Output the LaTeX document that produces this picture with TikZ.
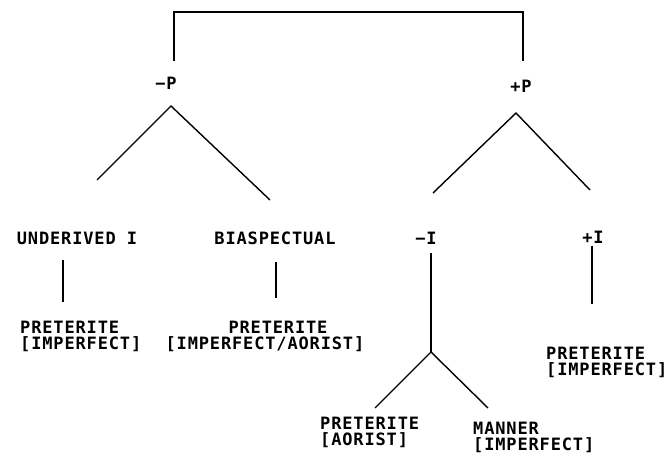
\documentclass[tikz,border=0pt]{standalone}
\usepackage{fontspec}
\setmonofont{DejaVu Sans Mono}[LetterSpace=5]
\begin{document}
\begin{tikzpicture}[x=1pt,y=-1pt,
  lbl/.style={font=\ttfamily\bfseries\fontsize{17}{16}\selectfont, inner sep=0pt, align=left},
  ln/.style={line width=1.8pt},
  dg/.style={line width=1.4pt}]
\useasboundingbox[fill=white] (0,0) rectangle (672,462);
% labels
\node[lbl] (mP) at (166,83) {−P};
\node[lbl] (pP) at (521,86) {+P};
\node[lbl] (und) at (77,238) {UNDERIVED I};
\node[lbl] (bia) at (275,238) {BIASPECTUAL};
\node[lbl] (mI) at (426,238) {−I};
\node[lbl] (pI) at (593,237) {+I};
\node[lbl, anchor=north west] (p1) at (20,321) {PRETERITE\\{[}IMPERFECT{]}};
\node[lbl, align=center] (p2) at (265,336) {\hspace*{26pt}PRETERITE\\{[}IMPERFECT/AORIST{]}};
\node[lbl, anchor=north west] (p3) at (546,347) {PRETERITE\\{[}IMPERFECT{]}};
\node[lbl, anchor=north west] (p4) at (320,417) {PRETERITE\\{[}AORIST{]}};
\node[lbl, anchor=north west] (p5) at (473,422) {MANNER\\{[}IMPERFECT{]}};
% points
\coordinate (bl) at (174,61);
\coordinate (br) at (523,61);
\coordinate (aM) at (171,106);
\coordinate (aMl) at (97,180);
\coordinate (aMr) at (270,200);
\coordinate (aP) at (516,113);
\coordinate (aPl) at (433,193);
\coordinate (aPr) at (590,190);
\coordinate (u1) at (63,260); \coordinate (u2) at (63,302);
\coordinate (b1) at (276,262); \coordinate (b2) at (276,298);
\coordinate (i1) at (431,253); \coordinate (fork) at (431,352);
\coordinate (fl) at (375,408); \coordinate (fr) at (488,408);
\coordinate (j1) at (592,246); \coordinate (j2) at (592,304);
% connectors
\draw[ln] (bl) |- (174,12) -| (br);
\draw[dg] (aMl) -- (aM) -- (aMr);
\draw[dg] (aPl) -- (aP) -- (aPr);
\draw[ln] (u1) -- (u2);
\draw[ln] (b1) -- (b2);
\draw[ln] (i1) -- (fork);
\draw[dg] (fl) -- (fork) -- (fr);
\draw[ln] (j1) -- (j2);
\end{tikzpicture}
\end{document}
